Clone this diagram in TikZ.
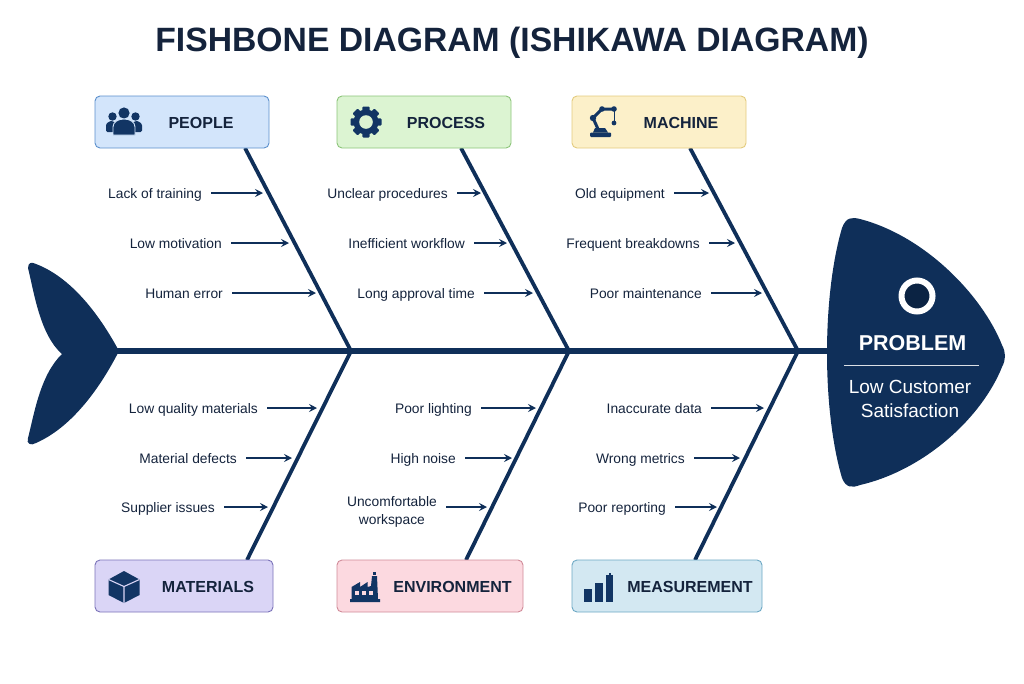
\documentclass[tikz,border=0pt]{standalone}
\usepackage{fontspec}
\setmainfont{Liberation Sans}
\usetikzlibrary{arrows.meta}

\definecolor{navy}{HTML}{0F2F59}
\definecolor{ink}{HTML}{14233C}
\definecolor{iconblue}{HTML}{123564}
\definecolor{peoplefill}{HTML}{D3E5FB}
\definecolor{peopleline}{HTML}{5B8FCC}
\definecolor{processfill}{HTML}{DCF4D2}
\definecolor{processline}{HTML}{8CC47A}
\definecolor{machinefill}{HTML}{FCF0C9}
\definecolor{machineline}{HTML}{E3CB7E}
\definecolor{materialsfill}{HTML}{DAD5F6}
\definecolor{materialsline}{HTML}{7A72B8}
\definecolor{environmentfill}{HTML}{FCD9E0}
\definecolor{environmentline}{HTML}{D08A98}
\definecolor{measurementfill}{HTML}{D3E8F2}
\definecolor{measurementline}{HTML}{6CA8C4}

\tikzset{
	pics/peopleicon/.style={code={
		\fill[iconblue] (-11.5,-4.5) circle (4.2) (11.5,-4.5) circle (4.2) (0,-8) circle (5.6);
		\fill[iconblue,rounded corners=1.5pt] (-18,11) -- (-18,6) .. controls (-18,2) and (-14,0) .. (-11,0) -- (-6,4) -- (-6,11) -- cycle;
		\fill[iconblue,rounded corners=1.5pt] (18,11) -- (18,6) .. controls (18,2) and (14,0) .. (11,0) -- (6,4) -- (6,11) -- cycle;
		\fill[iconblue,draw=peoplefill,line width=0.9pt] (-11,14) -- (-11,6) .. controls (-11,1) and (-6,-2) .. (0,-2) .. controls (6,-2) and (11,1) .. (11,6) -- (11,14) -- cycle;
	}},
	pics/gearicon/.style={code={
		\foreach \a in {0,45,...,315}
		\fill[iconblue,rotate=\a,rounded corners=1pt] (-3.6,-15.5) rectangle (3.6,-8);
		\fill[iconblue] (0,0) circle (12.5);
		\fill[processfill] (0,0) circle (6.8);
	}},
	pics/machineicon/.style={code={
		\fill[iconblue,rounded corners=1pt] (-13,15) rectangle (8,10.5);
		\fill[iconblue] (-10,10.5) -- (-8,6) -- (2,6) -- (5,10.5) -- cycle;
		\draw[iconblue,line width=3pt,line cap=round] (-5,7) -- (-10,-4) -- (-1,-13) -- (11,-13);
		\draw[iconblue,line width=1pt] (11,-13) -- (11,0);
		\fill[iconblue] (-10,-4) circle (3.2) (-1,-13) circle (2.8) (11,-13) circle (2.8) (11,1) circle (2.4);
	}},
	pics/materialsicon/.style={code={
		\fill[iconblue] (0,-16) -- (15.5,-7.5) -- (15.5,8) -- (0,16) -- (-15.5,8) -- (-15.5,-7.5) -- cycle;
		\draw[materialsfill,line width=1.1pt] (-15.5,-7.5) -- (0,-0.5) -- (15.5,-7.5) (0,-0.5) -- (0,16);
	}},
	pics/environmenticon/.style={code={
		\fill[iconblue] (-15,15) -- (-15,12) -- (-13.5,12) -- (-13.5,0) -- (-5,-5) -- (-5,0) -- (2.5,-5) -- (2.5,0) -- (6,-1) -- (7,-11) -- (12,-11) -- (13,12) -- (15,12) -- (15,15) -- cycle;
		\fill[iconblue] (8,-15) rectangle (11,-12);
		\foreach \x in {-10,-3,4}
		\fill[environmentfill] (\x,4) rectangle ++(3.5,3.5);
	}},
	pics/measurementicon/.style={code={
		\fill[iconblue] (-14,2.3) rectangle (-5.7,14.7);
		\fill[iconblue] (-3,-4.3) rectangle (5.3,14.7);
		\fill[iconblue] (8,-12) rectangle (15.3,14.7);
		\fill[iconblue] (10.5,-14) rectangle (13,-12);
	}}
}

\begin{document}
\begin{tikzpicture}[x=1pt,y=-1pt]
	\tikzstyle{catbox}=[draw,rounded corners=5pt,line width=0.9pt,minimum height=52pt,inner sep=0pt]
	\tikzstyle{catlabel}=[text=ink,font=\fontsize{16}{20}\selectfont\bfseries,inner sep=0pt]
	\tikzstyle{cause}=[text=ink,font=\fontsize{13.8}{18}\selectfont,align=center,anchor=east,inner sep=0pt]
	\tikzstyle{bone}=[draw=navy,line width=3.8pt]
	\tikzstyle{causearrow}=[draw=navy,line width=1.3pt,-{Stealth[length=8pt,width=8pt,inset=3pt]},shorten <=9pt]
	
	\useasboundingbox (0,0) rectangle (1024,683);
	
	% Title
	\node[text=ink,font=\fontsize{33.7}{38}\selectfont\bfseries,inner sep=0pt] (title) at (512,42.5) {FISHBONE DIAGRAM (ISHIKAWA DIAGRAM)};
	
	% Draw the spine
	\coordinate (tailtip) at (116,351);
	\coordinate (headback) at (832,351);
	\coordinate (J1) at (351,351);
	\coordinate (J2) at (569,351);
	\coordinate (J3) at (798,351);
	\draw[navy,line width=6pt] (tailtip) -- (headback);
	
	% Draw the tail
	\fill[navy] (28,268) .. controls (28,262) and (32,262) .. (36,264)
		.. controls (70,277) and (98,312) .. (119,351)
		.. controls (98,392) and (70,428) .. (36,443)
		.. controls (31,446) and (26,444) .. (28,438)
		.. controls (34,415) and (40,375) .. (62,354)
		.. controls (40,335) and (34,292) .. (28,268) -- cycle;
	
	% Draw the head
	\fill[navy] (842,228) .. controls (846,217) and (852,217) .. (860,219)
		.. controls (925,236) and (982,295) .. (1002,345)
		.. controls (1006,353) and (1006,359) .. (1002,367)
		.. controls (982,417) and (925,470) .. (860,485)
		.. controls (852,488) and (846,488) .. (842,478)
		.. controls (822,410) and (822,296) .. (842,228) -- cycle;
	\node[circle,fill=navy!75!black,draw=white,line width=6pt,minimum size=31pt,inner sep=0pt] (eye) at (917,296) {};
	\node[text=white,font=\fontsize{21.5}{26}\selectfont\bfseries,inner sep=0pt] (problem) at (912.5,343) {PROBLEM};
	\coordinate (ruleL) at (844,365);
	\coordinate (ruleR) at (979,365);
	\draw[white!85!navy,line width=1pt] (ruleL) -- (ruleR);
	\node[text=white,font=\fontsize{19}{24.5}\selectfont,align=center,inner sep=0pt] (effect) at (910,399) {Low Customer\\Satisfaction};
	
	% Draw the bones, top row and bottom row
	\foreach \name/\x/\y/\joint in {people/245/148/J1,process/461/148/J2,machine/690/148/J3,materials/247/560/J1,environment/466/560/J2,measurement/695/560/J3}{
		\coordinate (\name-end) at (\x,\y);
		\draw[bone] (\name-end) -- (\joint);
	}
	
	% Draw the category boxes
	\foreach \name/\x/\y/\w/\lx in {people/182/122/174/201,process/424/122/174/446,machine/659/122/174/681,materials/184/586/178/208,environment/430/586/186/452.5,measurement/667/586/190/690}{
		\node[catbox,fill=\name fill,draw=\name line,minimum width=\w pt] (\name) at (\x,\y) {};
		\node[catlabel] (\name-label) at (\lx,\y+0.5) {\MakeUppercase{\name}};
	}
	
	% Draw the icons
	\pic (people-icon) at (124,121) {peopleicon};
	\pic (process-icon) at (366,122) {gearicon};
	\pic (machine-icon) at (603,122) {machineicon};
	\pic (materials-icon) at (124,587) {materialsicon};
	\pic (environment-icon) at (365,587) {environmenticon};
	\pic (measurement-icon) at (598,587) {measurementicon};
	
	% Draw the causes with their arrows
	\foreach \id/\x/\y/\tip/\ty/\txt in {
		c1/202/193/263/193/Lack of training,
		c2/222/243/289/243/Low motivation,
		c3/223/293/316/293/Human error,
		c4/448/193/481/193/Unclear procedures,
		c5/465/243/507/243/Inefficient workflow,
		c6/475/293/533/293/Long approval time,
		c7/665/193/709/193/Old equipment,
		c8/700/243/735/243/Frequent breakdowns,
		c9/702/293/762/293/Poor maintenance,
		c10/258/408/317/408/Low quality materials,
		c11/237/458/292/458/Material defects,
		c12/215/507/268/507/Supplier issues,
		c13/472/408/536/408/Poor lighting,
		c14/456/458/512/458/High noise,
		c15/437/510/487/507/{Uncomfortable\\workspace},
		c16/702/408/764/408/Inaccurate data,
		c17/685/458/740/458/Wrong metrics,
		c18/666/507/717/507/Poor reporting}{
		\node[cause,yshift=-1.5pt] (\id) at (\x,\y) {\strut\txt\strut};
		\coordinate (\id-tip) at (\tip,\ty);
		\draw[causearrow] (\id.east |- \id-tip) -- (\id-tip);
	}
\end{tikzpicture}
\end{document}
